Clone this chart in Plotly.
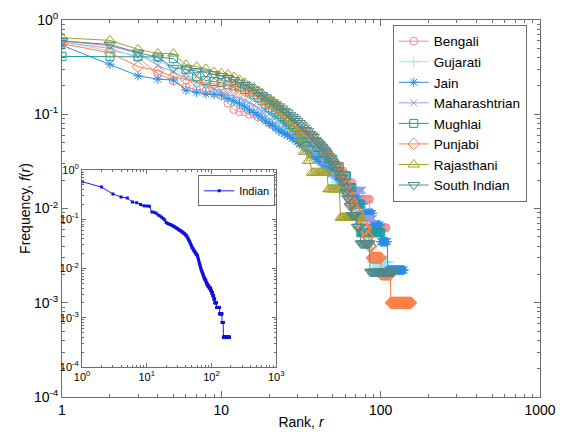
import plotly.graph_objects as go

# ---------------- data (ingredient counts by rank, and recipe totals) ----------------
names = ["Bengali", "Gujarati", "Jain", "Maharashtrian", "Mughlai", "Punjabi", "Rajasthani", "South Indian"]

bengali_n = 160
bengali = [93, 80, 64, 43, 36, 31, 29, 28, 27, 25,
           21, 18, 17, 17, 16, 16, 15, 15, 14, 13,
           13, 12, 12, 11, 11, 11, 10, 10, 9, 9,
           9, 8, 8, 8, 7, 7, 7, 6, 6, 6,
           6, 6, 5, 5, 5, 5, 5, 5, 4, 4,
           4, 4, 4, 4, 4, 4, 4, 4, 3, 3,
           3, 3, 3, 3, 3, 3, 2, 2, 2, 2,
           2, 2, 2, 2, 2, 2, 2, 2, 2, 2,
           2, 2, 2, 2, 2, 1, 1, 1, 1, 1,
           1, 1, 1, 1, 1, 1, 1, 1, 1, 1,
           1, 1, 1, 1, 1, 1, 1, 1]

gujarati_n = 370
gujarati = [215, 174, 155, 137, 115, 93, 81, 74, 67, 59,
            55, 52, 49, 46, 42, 40, 37, 35, 33, 31,
            30, 29, 28, 27, 26, 25, 24, 22, 21, 20,
            19, 18, 18, 17, 16, 15, 15, 14, 13, 13,
            12, 12, 11, 11, 10, 10, 9, 9, 9, 8,
            8, 8, 7, 7, 7, 6, 6, 6, 6, 5,
            5, 5, 5, 5, 4, 4, 4, 4, 4, 4,
            3, 3, 3, 3, 3, 3, 3, 3, 2, 2,
            2, 2, 2, 2, 2, 2, 2, 2, 1, 1,
            1, 1, 1, 1, 1, 1, 1, 1, 1, 1,
            1, 1, 1, 1, 1, 1, 1, 1, 1, 1]

jain_n = 450
jain = [243, 153, 115, 106, 104, 81, 77, 74, 73, 72,
        66, 62, 58, 54, 50, 47, 44, 41, 38, 36,
        34, 32, 30, 29, 28, 27, 26, 25, 24, 23,
        22, 21, 20, 19, 18, 17, 17, 16, 16, 15,
        15, 14, 14, 13, 13, 12, 12, 12, 11, 11,
        11, 10, 10, 10, 9, 9, 9, 9, 8, 8,
        8, 8, 7, 7, 7, 7, 6, 6, 6, 6,
        6, 5, 5, 5, 5, 5, 5,
        4, 4, 4, 4, 4, 4, 4, 4, 4, 4, 4, 4,
        3, 3, 3, 3, 3, 3, 3, 3, 3, 3,
        2, 2, 2, 2, 2, 2, 2, 2, 2, 2, 2,
        1, 1, 1, 1, 1, 1, 1, 1, 1, 1,
        1, 1, 1, 1, 1, 1, 1, 1, 1, 1,
        1, 1, 1, 1, 1, 1, 1, 1, 1, 1]

maharashtrian_n = 128
maharashtrian = [77, 68, 57, 42, 36, 31, 28, 26, 24, 22,
                 21, 20, 19, 18, 17, 16, 15, 14, 14, 13,
                 12, 12, 11, 11, 10, 10, 9, 9, 8, 8,
                 8, 7, 7, 7, 6, 6, 6, 5, 5, 5,
                 5, 5, 4, 4, 4, 4, 4, 4, 3, 3,
                 3, 3, 3, 3, 3, 3, 3, 3, 2, 2,
                 2, 2, 2, 2, 2, 2, 2, 2, 2, 2,
                 2, 2, 2, 2, 2, 2, 2,
                 1, 1, 1, 1, 1, 1, 1, 1, 1, 1, 1, 1, 1]

mughlai_n = 180
mughlai = [74, 74, 74, 73, 70, 54, 45, 41, 40, 39,
           37, 36, 35, 33, 31, 29, 27, 25, 23, 21,
           20, 19, 18, 17, 16, 15, 14, 14, 13, 12,
           12, 11, 11, 10, 10, 10, 9, 9, 9, 8,
           8, 8, 7, 7, 7, 7, 6, 6, 6, 6,
           5, 5, 5, 5, 5, 4, 4, 4, 4, 4, 4, 3, 3, 3, 3, 3,
           2, 2, 2, 2, 2, 2, 2, 2,
           1, 1, 1, 1, 1, 1, 1, 1, 1, 1, 1, 1, 1,
           1, 1, 1, 1, 1, 1, 1, 1, 1, 1, 1, 1, 1]

punjabi_n = 1000
punjabi = [560, 450, 320, 290, 250, 235, 220, 215, 210, 205,
           200, 192, 185, 176, 168, 160, 152, 144, 137, 130,
           124, 118, 112, 107, 102, 97, 92, 88, 84, 80,
           76, 73, 70, 67, 64, 61, 58, 55, 53, 51,
           49, 47, 45, 43, 41, 39, 37, 35, 34, 33,
           31, 30, 28, 27, 25, 24, 22, 21, 19, 18,
           17, 15, 14, 13, 12, 12, 11, 10, 10, 9,
           9, 8, 8, 8, 7, 7, 7, 6, 6, 6,
           6, 5, 5, 5, 4, 4, 4,
           3, 3, 3, 3, 3, 3, 3, 3, 3, 3, 3, 3, 3,
           2, 2, 2, 2, 2, 2, 2, 2, 2, 2, 2, 2, 2, 2, 2,
           1, 1, 1, 1, 1, 1, 1, 1, 1, 1,
           1, 1, 1, 1, 1, 1, 1, 1, 1, 1,
           1, 1, 1, 1, 1, 1, 1, 1, 1, 1,
           1, 1, 1, 1, 1, 1, 1, 1, 1, 1]

rajasthani_n = 125
rajasthani = [81, 76, 61, 55, 55, 42, 40, 38, 35, 34,
              33, 31, 29, 27, 25, 24, 22, 21, 19, 18,
              17, 16, 15, 14, 13, 12, 11, 10, 9, 8,
              7, 6, 5, 5, 4, 4, 3, 3, 3, 3,
              3, 3, 3, 3, 3, 3, 2, 2, 2, 2,
              2, 2, 2, 2, 2,
              1, 1, 1, 1, 1, 1, 1, 1, 1, 1,
              1, 1, 1, 1, 1, 1, 1, 1, 1, 1]

south_indian_n = 470
south_indian = [282, 258, 212, 188, 146, 141, 135, 130, 125, 120,
                114, 108, 102, 96, 91, 86, 80, 75, 71, 67,
                63, 60, 57, 54, 51, 49, 46, 44, 42, 40,
                38, 36, 34, 32, 31, 29, 28, 27, 25, 24,
                23, 22, 21, 20, 19, 18, 17, 16, 15, 14,
                14, 13, 12, 12, 11, 10, 10, 9, 8, 7,
                7, 6, 6, 5, 5, 4, 4, 4, 4, 4,
                3, 3, 3, 3,
                2, 2, 2, 2, 2, 2, 2, 2, 2, 2, 2,
                1, 1, 1, 1, 1, 1, 1, 1, 1, 1,
                1, 1, 1, 1, 1, 1, 1, 1, 1, 1,
                1, 1, 1, 1, 1, 1, 1, 1, 1, 1,
                1, 1, 1, 1, 1]

indian_n = 2500
indian = [1450, 1125, 815, 710, 675, 560, 540, 500, 470, 465,
          460, 350, 345, 330, 305, 290, 275, 260, 240, 215,
          205, 200, 195, 190, 185, 180, 175, 170, 165, 160,
          155, 150, 147, 143, 140, 136, 132, 128, 124, 120,
          116, 110, 104, 98, 92, 87, 82, 77, 72, 67,
          65, 62, 59, 57, 55, 53, 51, 49, 48, 47,
          44, 41, 38, 35, 32, 30, 28, 26, 24, 23,
          22, 21, 20, 19, 18, 17, 16, 16, 15, 15,
          14, 14, 13, 13, 12, 12, 12, 11, 11, 11,
          11, 10, 10, 10, 10, 10, 9, 9, 9, 9,
          8, 8, 8, 8, 7, 7, 7, 7, 6, 6,
          6, 6, 5, 5, 5, 5, 5, 5, 5, 4,
          4, 4, 4, 4, 4, 4, 4, 4, 4, 4,
          4, 4, 4, 3, 3, 3, 3, 3, 3, 3,
          3, 3, 3, 3, 3, 2, 2, 2, 2, 2, 2, 2,
          1, 1, 1, 1, 1, 1, 1, 1, 1, 1,
          1, 1, 1, 1, 1, 1, 1, 1, 1, 1,
          1, 1, 1, 1, 1, 1, 1, 1, 1, 1,
          1, 1, 1, 1, 1, 1, 1, 1]

series_counts = [bengali, gujarati, jain, maharashtrian, mughlai, punjabi, rajasthani, south_indian]
series_totals = [bengali_n, gujarati_n, jain_n, maharashtrian_n, mughlai_n, punjabi_n, rajasthani_n, south_indian_n]

main_x_ticks = [1, 10, 100, 1000]
main_x_labels = ["1", "10", "100", "1000"]
main_y_ticks = [1, 0.1, 0.01, 0.001, 0.0001]
main_y_labels = ["10<sup>0</sup>", "10<sup>-1</sup>", "10<sup>-2</sup>", "10<sup>-3</sup>", "10<sup>-4</sup>"]
inset_x_labels = ["10<sup>0</sup>", "10<sup>1</sup>", "10<sup>2</sup>", "10<sup>3</sup>"]

# ---------------- styles ----------------
colors = ["#F28C8C", "#8EEAF2", "#2A8DE8", "#9A9AE2", "#1A9E9E", "#FF7F45", "#A3A22A", "#4F8A8A"]
symbols = ["circle-open", "cross-thin-open", "asterisk-open", "x-thin-open",
           "square-open", "diamond-open", "triangle-up-open", "triangle-down-open"]
sizes = [8, 9, 8, 7, 8, 9, 10, 10]

FONT = "Liberation Sans, Arial, sans-serif"
AX = "#6E6E6E"

def minor_vals(lo, hi):
    vals = []
    for e in range(lo, hi):
        for m in range(2, 10):
            vals.append(m * 10 ** e)
    return vals

fig = go.Figure()

for name, cnt, tot, col, sym, sz in zip(names, series_counts, series_totals, colors, symbols, sizes):
    fig.add_trace(go.Scatter(
        x=list(range(1, len(cnt) + 1)),
        y=[c / tot for c in cnt],
        mode="lines+markers", name=name,
        line=dict(color=col, width=1),
        marker=dict(symbol=sym, size=sz, color=col, line=dict(color=col, width=1)),
        xaxis="x", yaxis="y", legend="legend",
    ))

fig.add_trace(go.Scatter(
    x=list(range(1, len(indian) + 1)),
    y=[c / indian_n for c in indian],
    mode="lines+markers", name="Indian",
    line=dict(color="#1F1FE6", width=1),
    marker=dict(symbol="square", size=3, color="#1010E0"),
    xaxis="x2", yaxis="y2", legend="legend2",
))

common = dict(showline=True, linecolor=AX, linewidth=1, mirror="allticks",
              ticks="inside", tickcolor=AX, showgrid=False, zeroline=False,
              automargin=False)

fig.update_layout(
    width=562, height=432,
    margin=dict(l=62, r=22, t=20, b=35),
    paper_bgcolor="white", plot_bgcolor="white",
    font=dict(family=FONT, color="#000000"),
    xaxis=dict(type="log", range=[0, 3], domain=[0, 1],
               tickmode="array", tickvals=main_x_ticks, ticktext=main_x_labels,
               ticklen=6, tickfont=dict(size=14),
               minor=dict(tickmode="array", tickvals=minor_vals(0, 3), ticks="inside",
                          ticklen=3, tickcolor=AX),
               title=dict(text="Rank, <i>r</i>", font=dict(size=14), standoff=0),
               **common),
    yaxis=dict(type="log", range=[-4, 0], domain=[0, 1],
               tickmode="array", tickvals=main_y_ticks, ticktext=main_y_labels,
               ticklen=6, tickfont=dict(size=14),
               minor=dict(tickmode="array", tickvals=minor_vals(-4, 0), ticks="inside",
                          ticklen=3, tickcolor=AX),
               title=dict(text="Frequency, <i>f</i>(<i>r</i>)", font=dict(size=14), standoff=0),
               **common),
    xaxis2=dict(type="log", range=[0, 3], domain=[0.042, 0.448], anchor="y2",
                tickmode="array", tickvals=main_x_ticks, ticktext=inset_x_labels,
                ticklen=4, tickfont=dict(size=11),
                minor=dict(tickmode="array", tickvals=minor_vals(0, 3), ticks="inside",
                           ticklen=2, tickcolor=AX),
                **common),
    yaxis2=dict(type="log", range=[-4, 0], domain=[0.08, 0.602], anchor="x2",
                tickmode="array", tickvals=main_y_ticks, ticktext=main_y_labels,
                ticklen=4, tickfont=dict(size=11),
                minor=dict(tickmode="array", tickvals=minor_vals(-4, 0), ticks="inside",
                           ticklen=2, tickcolor=AX),
                **common),
    legend=dict(x=0.692, y=0.987, xanchor="left", yanchor="top",
                bgcolor="white", bordercolor=AX, borderwidth=1,
                font=dict(size=13.5), tracegroupgap=0, itemwidth=30),
    legend2=dict(x=0.446, y=0.588, xanchor="right", yanchor="top",
                 bgcolor="white", bordercolor=AX, borderwidth=1,
                 font=dict(size=11), itemwidth=30),
    showlegend=True,
)

fig.write_html("out.html", config={"displayModeBar": False},
               post_script="document.body.style.margin='0px';document.body.style.padding='0px';")
